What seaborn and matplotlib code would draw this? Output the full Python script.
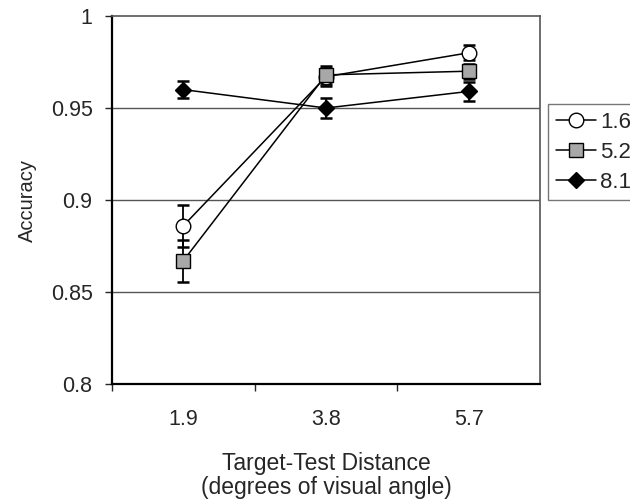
import numpy as np
import pandas as pd
import seaborn as sns
import matplotlib.pyplot as plt
from matplotlib.ticker import FixedLocator, FuncFormatter

# Target-test distances (x categories)
distances = ["1.9", "3.8", "5.7"]

# Series (legend labels) and their accuracy values / error bars
series = ["1.6", "5.2", "8.1"]
acc_16 = [0.886, 0.967, 0.980]
acc_52 = [0.867, 0.968, 0.970]
acc_81 = [0.960, 0.950, 0.959]
err_16 = [0.0115, 0.005, 0.004]
err_52 = [0.0115, 0.005, 0.004]
err_81 = [0.0045, 0.0055, 0.005]

# y axis ticks
y_ticks = [0.8, 0.85, 0.9, 0.95, 1.0]

rows = []
for name, vals, errs in zip(series, [acc_16, acc_52, acc_81], [err_16, err_52, err_81]):
    for i, (d, v, e) in enumerate(zip(distances, vals, errs)):
        rows.append({"series": name, "distance": d, "pos": i, "acc": v, "err": e})
df = pd.DataFrame(rows)

sns.set_style("white")
plt.rcParams["font.family"] = ["Liberation Sans", "DejaVu Sans"]

fig = plt.figure(figsize=(6.3, 5.04), dpi=100)
ax = fig.add_axes([112 / 630, 1 - 384 / 504, (540 - 112) / 630, (384 - 16) / 504])

styles = {
    "1.6": dict(marker="o", markerfacecolor="white", markersize=10.5),
    "5.2": dict(marker="s", markerfacecolor="#a8a8a8", markersize=10),
    "8.1": dict(marker="D", markerfacecolor="black", markersize=8),
}

for name in series:
    sub = df[df["series"] == name]
    ax.errorbar(sub["pos"], sub["acc"], yerr=sub["err"], fmt="none",
                ecolor="black", elinewidth=1.3, capsize=4, capthick=1.8, zorder=2)
    sns.lineplot(data=sub, x="pos", y="acc", ax=ax, color="black", linewidth=1.1,
                 markeredgecolor="black", markeredgewidth=1.0, label=name,
                 zorder=3, **styles[name])

# horizontal gridlines
for y in [0.85, 0.9, 0.95]:
    ax.axhline(y, color="#555555", linewidth=1, zorder=1)

ax.set_xlim(-0.5, 2.5)
ax.set_ylim(0.8, 1.0)

# x ticks: marks at category boundaries, labels at centers
ax.xaxis.set_major_locator(FixedLocator([-0.5, 0.5, 1.5]))
ax.xaxis.set_major_formatter(FuncFormatter(lambda v, p: ""))
ax.xaxis.set_minor_locator(FixedLocator([0, 1, 2]))
ax.set_xticklabels(distances, minor=True)
ax.tick_params(axis="x", which="major", direction="out", length=5, width=1, bottom=True)
ax.tick_params(axis="x", which="minor", length=0, pad=18, labelsize=15.5)

ax.set_yticks(y_ticks)
ax.yaxis.set_major_formatter(FuncFormatter(lambda v, p: f"{v:g}"))
ax.tick_params(axis="y", direction="out", length=5, width=1, left=True, pad=9, labelsize=15.5)

for side in ["left", "bottom"]:
    ax.spines[side].set_color("black")
    ax.spines[side].set_linewidth(1.6)
for side in ["top", "right"]:
    ax.spines[side].set_visible(True)
    ax.spines[side].set_color("#555555")
    ax.spines[side].set_linewidth(1.2)

ax.set_xlabel("Target-Test Distance\n(degrees of visual angle)", fontsize=16.5,
              labelpad=16, linespacing=1.05)
ax.set_ylabel("Accuracy", fontsize=14.5, labelpad=10)

handles, labels = ax.get_legend_handles_labels()
ax.legend(handles, labels, loc="upper left", bbox_to_anchor=(548 / 630, 1 - 104 / 504),
          bbox_transform=fig.transFigure, frameon=True, fancybox=False, edgecolor="#555555",
          fontsize=16, handlelength=1.8, handletextpad=0.2, labelspacing=0.4,
          borderpad=0.35, borderaxespad=0)

fig.savefig("out.png", dpi=100)
